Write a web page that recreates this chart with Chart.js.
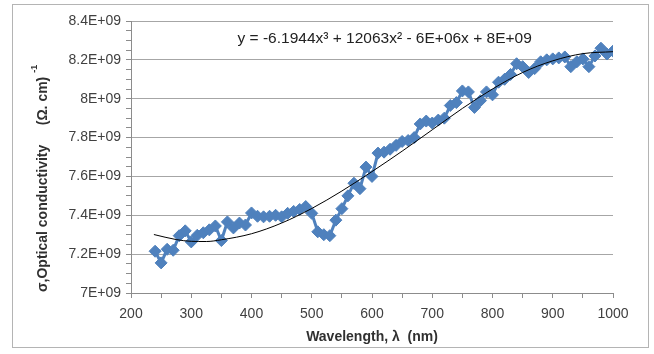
<!DOCTYPE html>
<html><head><meta charset="utf-8">
<script src="https://cdn.jsdelivr.net/npm/chart.js@4/dist/chart.umd.min.js"></script>
<style>html,body{margin:0;padding:0;background:#fff;}#wrap{width:654px;height:354px;}</style>
</head><body><div id="wrap"><canvas id="c" width="654" height="354"></canvas></div>
<script>
const wavelengths = [240,250,260,270,280,290,300,310,320,330,340,350,360,370,380,390,400,410,420,430,440,450,460,470,480,490,500,510,520,530,540,550,560,570,580,590,600,610,620,630,640,650,660,670,680,690,700,710,720,730,740,750,760,770,780,790,800,810,820,830,840,850,860,870,880,890,900,910,920,930,940,950,960,970,980,990,1000];
const conductivity = [7.215e9,7.155e9,7.225e9,7.22e9,7.295e9,7.32e9,7.263e9,7.297e9,7.31e9,7.325e9,7.345e9,7.27e9,7.366e9,7.335e9,7.36e9,7.35e9,7.412e9,7.395e9,7.392e9,7.395e9,7.40e9,7.392e9,7.41e9,7.42e9,7.43e9,7.445e9,7.41e9,7.315e9,7.30e9,7.295e9,7.375e9,7.434e9,7.50e9,7.565e9,7.537e9,7.648e9,7.60e9,7.72e9,7.725e9,7.74e9,7.76e9,7.78e9,7.785e9,7.80e9,7.87e9,7.885e9,7.875e9,7.89e9,7.90e9,7.965e9,7.98e9,8.04e9,8.035e9,7.955e9,7.99e9,8.035e9,8.02e9,8.085e9,8.10e9,8.125e9,8.18e9,8.165e9,8.135e9,8.155e9,8.19e9,8.20e9,8.205e9,8.21e9,8.215e9,8.165e9,8.19e9,8.205e9,8.165e9,8.22e9,8.26e9,8.23e9,8.245e9];
const trendX = [238,275,300,325,350,400,450,500,550,600,650,700,750,800,850,900,950,1000];
const trendY = [7.301e9,7.275e9,7.266e9,7.265e9,7.274e9,7.305e9,7.36e9,7.435e9,7.525e9,7.625e9,7.73e9,7.84e9,7.95e9,8.05e9,8.135e9,8.195e9,8.232e9,8.242e9];
const equationText = "y = -6.1944x\u00B3 + 12063x\u00B2 - 6E+06x + 8E+09";
const yTitleMain = "\u03C3,Optical conductivity     (\u03A9. cm) ";
const yTitleSup = "-1";
const xTitle = "Wavelength, \u03BB  (nm)";

const FONT = "'Liberation Sans', Arial, sans-serif";
const textColor = '#404040';

const decor = {
  id: 'decor',
  beforeDraw(chart) {
    const ctx = chart.ctx;
    ctx.save();
    ctx.fillStyle = '#fff';
    ctx.fillRect(0, 0, chart.width, chart.height);
    ctx.strokeStyle = '#b4b4b4';
    ctx.lineWidth = 1;
    ctx.strokeRect(12.5, 4.5, 636, 343);
    ctx.restore();
  },
  afterDraw(chart) {
    const ctx = chart.ctx;
    ctx.save();
    // equation
    ctx.fillStyle = '#222';
    ctx.font = "15.5px " + FONT;
    ctx.textAlign = 'center';
    ctx.textBaseline = 'middle';
    ctx.fillText(equationText, chart.scales.x.getPixelForValue(621), 39);
    // y title
    ctx.translate(43, 292);
    ctx.rotate(-Math.PI / 2);
    ctx.font = "bold 14px " + FONT;
    ctx.fillStyle = '#303030';
    ctx.textAlign = 'left';
    ctx.textBaseline = 'middle';
    ctx.fillText(yTitleMain, 0, 0);
    const w = ctx.measureText(yTitleMain).width;
    ctx.font = "bold 9px " + FONT;
    ctx.fillText(yTitleSup, w, -8);
    ctx.restore();
  }
};

new Chart(document.getElementById('c'), {
  type: 'scatter',
  data: {
    datasets: [
      {
        label: 'trend',
        data: trendX.map((x, i) => ({x, y: trendY[i]})),
        showLine: true,
        borderColor: '#000',
        borderWidth: 1,
        pointRadius: 0,
        cubicInterpolationMode: 'monotone',
        order: 0
      },
      {
        label: 'sigma',
        data: wavelengths.map((x, i) => ({x, y: conductivity[i]})),
        showLine: true,
        borderColor: '#4f81bd',
        borderWidth: 3,
        pointStyle: 'rectRot',
        pointRadius: 6,
        pointBackgroundColor: '#4f81bd',
        pointBorderColor: '#4f81bd',
        pointBorderWidth: 1,
        order: 1
      }
    ]
  },
  options: {
    responsive: false,
    animation: false,
    devicePixelRatio: 1,
    layout: { padding: { left: 12, right: 41, top: 21, bottom: 8 } },
    plugins: { legend: { display: false }, tooltip: { enabled: false } },
    scales: {
      x: {
        type: 'linear',
        min: 200, max: 1000,
        afterFit(s) { s.height = 53; },
        border: { display: true, color: '#8c8c8c', width: 1 },
        grid: { drawOnChartArea: false, drawTicks: true, tickLength: 5, color: '#8c8c8c' },
        ticks: {
          stepSize: 50, autoSkip: false, maxRotation: 0, padding: 8,
          color: textColor, font: { family: FONT, size: 14 },
          callback: v => (v % 100 === 0 ? String(v) : '')
        },
        title: { display: true, text: xTitle, color: '#303030', font: { family: FONT, size: 14, weight: 'bold' }, padding: { top: 0, bottom: 0 } }
      },
      y: {
        type: 'linear',
        min: 7e9, max: 8.4e9,
        afterFit(s) { s.width = 119; },
        border: { display: true, color: '#8c8c8c', width: 1 },
        grid: {
          drawTicks: true, tickLength: 5,
          color: ctx => (Math.round(ctx.tick.value / 5e7) % 4 === 0 ? '#a6a6a6' : 'rgba(0,0,0,0)'),
          tickColor: '#8c8c8c', lineWidth: 1
        },
        ticks: {
          stepSize: 5e7, autoSkip: false, padding: 5,
          color: textColor, font: { family: FONT, size: 14 },
          callback: v => {
            if (Math.round(v / 5e7) % 4 !== 0) return '';
            return String(Number((v / 1e9).toFixed(1))) + 'E+09';
          }
        }
      }
    }
  },
  plugins: [decor]
});
</script></body></html>
